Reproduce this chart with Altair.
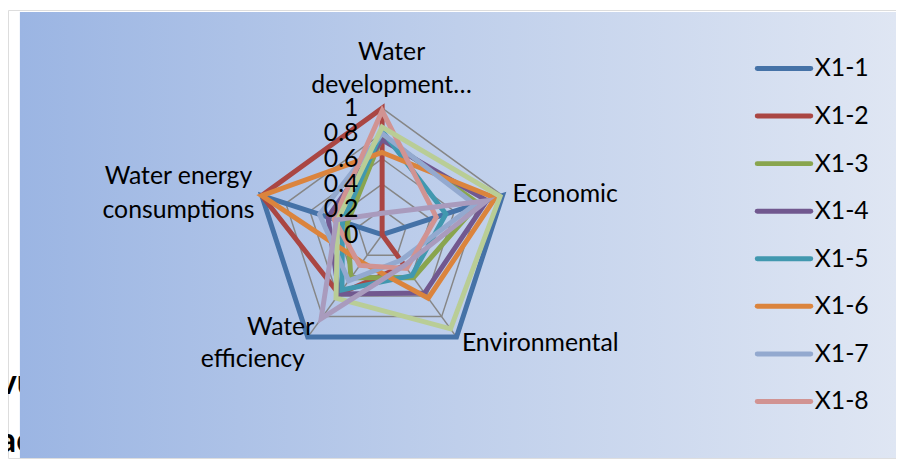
import altair as alt
import pandas as pd

# ---------------- data ----------------
axis_names = ["Water development…", "Economic", "Environmental", "Water efficiency", "Water energy consumptions"]
series = ["X1-1", "X1-2", "X1-3", "X1-4", "X1-5", "X1-6", "X1-7", "X1-8", "X1-9", "X1-10"]
legend_series = series[:8]

# values per axis, in axis_names order
x1_1 = [0.00, 1.00, 1.00, 1.00, 1.00]
x1_2 = [1.00, 0.00, 0.30, 0.58, 1.00]
x1_3 = [0.78, 0.80, 0.42, 0.42, 0.29]
x1_4 = [0.75, 0.87, 0.57, 0.58, 0.45]
x1_5 = [0.82, 0.53, 0.40, 0.54, 0.33]
x1_6 = [0.65, 0.94, 0.62, 0.27, 1.00]
x1_7 = [0.80, 0.77, 0.25, 0.45, 0.52]
x1_8 = [0.98, 0.45, 0.33, 0.30, 0.40]
x1_9 = [0.85, 0.98, 0.92, 0.62, 0.37]
x1_10 = [0.17, 0.87, 0.30, 0.82, 0.38]
all_values = [x1_1, x1_2, x1_3, x1_4, x1_5, x1_6, x1_7, x1_8, x1_9, x1_10]

colors = ["#4572A7", "#AA4643", "#89A54E", "#71588F", "#4198AF",
          "#DB843D", "#93A9CF", "#D19392", "#B9CD96", "#A99BBD"]

ring_levels = [0.2, 0.4, 0.6, 0.8, 1.0]
tick_values = [0, 0.2, 0.4, 0.6, 0.8, 1.0]
tick_labels = ["0", "0.2", "0.4", "0.6", "0.8", "1"]

# ---------------- tables ----------------
rows = []
for s, vals in zip(series, all_values):
    for k, v in enumerate(vals):
        rows.append({"series": s, "k": k, "axis": axis_names[k], "v": v})
df = pd.DataFrame(rows)

ring_df = pd.DataFrame([{"level": lv, "k": k} for lv in ring_levels for k in range(5)])
spoke_df = pd.DataFrame({"k": list(range(5))})
tick_df = pd.DataFrame({"lv": tick_values, "txt": tick_labels})

# ---------------- layout ----------------
W, H = 896, 452
cx, cy, R = 377.5, 226.7, 127.7
xs = alt.Scale(domain=[-1, 1], range=[cx - R, cx + R], zero=False, nice=False)
ys = alt.Scale(domain=[-1, 1], range=[cy + R, cy - R], zero=False, nice=False)
cscale = alt.Scale(domain=series, range=colors)
FONT = "Lato"
FS = 25

polar = dict(px="datum.v * sin(2 * PI * datum.k / 5)", py="datum.v * cos(2 * PI * datum.k / 5)")


def txt(t, x, y, align="center", size=FS, weight="normal", baseline="middle"):
    return alt.Chart(pd.DataFrame({"t": [t]})).mark_text(
        align=align, baseline=baseline, font=FONT, fontSize=size,
        fontWeight=weight, color="black"
    ).encode(text="t:N", x=alt.value(x), y=alt.value(y))


# stray document text behind the chart area
stray1 = txt("vu", -9, 387, align="left", size=34, weight="bold", baseline="alphabetic")
stray2 = txt("ac", -9, 446, align="left", size=34, weight="bold", baseline="alphabetic")

bg = alt.Chart(pd.DataFrame({"t": [0]})).mark_rect(
    fill=alt.Gradient(
        gradient="linear",
        stops=[alt.GradientStop(color="#9BB5E3", offset=0),
               alt.GradientStop(color="#BFCFEB", offset=0.5),
               alt.GradientStop(color="#DFE6F3", offset=1)],
        x1=0, x2=1, y1=0, y2=0),
).encode(x=alt.value(12), x2=alt.value(W), y=alt.value(2), y2=alt.value(H))

rings = alt.Chart(ring_df).transform_calculate(
    px="datum.level * sin(2 * PI * datum.k / 5)",
    py="datum.level * cos(2 * PI * datum.k / 5)"
).mark_line(interpolate="linear-closed", color="#868686", strokeWidth=1.5).encode(
    x=alt.X("px:Q", scale=xs, axis=None),
    y=alt.Y("py:Q", scale=ys, axis=None),
    detail="level:N",
    order="k:Q",
)

spokes = alt.Chart(spoke_df).transform_calculate(
    zero="0",
    px="sin(2 * PI * datum.k / 5)",
    py="cos(2 * PI * datum.k / 5)"
).mark_rule(color="#868686", strokeWidth=1.5).encode(
    x=alt.X("zero:Q", scale=xs, axis=None),
    y=alt.Y("zero:Q", scale=ys, axis=None),
    x2="px:Q", y2="py:Q",
)

series_layers = []
for s in series:
    series_layers.append(
        alt.Chart(df).transform_filter(alt.datum.series == s).transform_calculate(**polar)
        .mark_line(interpolate="linear-closed", strokeWidth=5, strokeJoin="miter")
        .encode(
            x=alt.X("px:Q", scale=xs, axis=None),
            y=alt.Y("py:Q", scale=ys, axis=None),
            color=alt.Color("series:N", scale=cscale, legend=None),
            order="k:Q",
        )
    )

ticks = alt.Chart(tick_df).transform_calculate(zero="0").mark_text(
    align="right", baseline="middle", font=FONT, fontSize=FS, color="black", dx=-24
).encode(
    x=alt.X("zero:Q", scale=xs, axis=None),
    y=alt.Y("lv:Q", scale=ys, axis=None),
    text="txt:N",
)

cat_labels = [
    txt("Water", 387, 42),
    txt("development…", 387, 76),
    txt("Economic", 509, 186, align="left"),
    txt("Environmental", 458, 336, align="left"),
    txt("Water", 275, 320),
    txt("efficiency", 247, 352),
    txt("Water  energy", 172, 168),
    txt("consumptions", 172, 202),
]

# manual legend: line swatch + label per entry
legend_layers = []
for i, s in enumerate(legend_series):
    ly = 59 + 48 * i
    one = pd.DataFrame({"series": [s]})
    legend_layers.append(
        alt.Chart(one).mark_rule(strokeWidth=5, strokeCap="round").encode(
            x=alt.value(756), x2=alt.value(810), y=alt.value(ly),
            color=alt.Color("series:N", scale=cscale, legend=None),
        )
    )
    legend_layers.append(
        alt.Chart(one).mark_text(align="left", baseline="middle", font=FONT, fontSize=FS, color="black").encode(
            x=alt.value(814), y=alt.value(ly), text="series:N"
        )
    )

chart = alt.layer(
    stray1, stray2, bg, rings, spokes, *series_layers, ticks, *cat_labels, *legend_layers
).properties(
    width=W, height=H, padding=0,
    autosize=alt.AutoSizeParams(type="none"),
).configure_view(stroke=None).configure(background="white")

chart.save("out.html", embed_options={"renderer": "svg", "actions": False})
